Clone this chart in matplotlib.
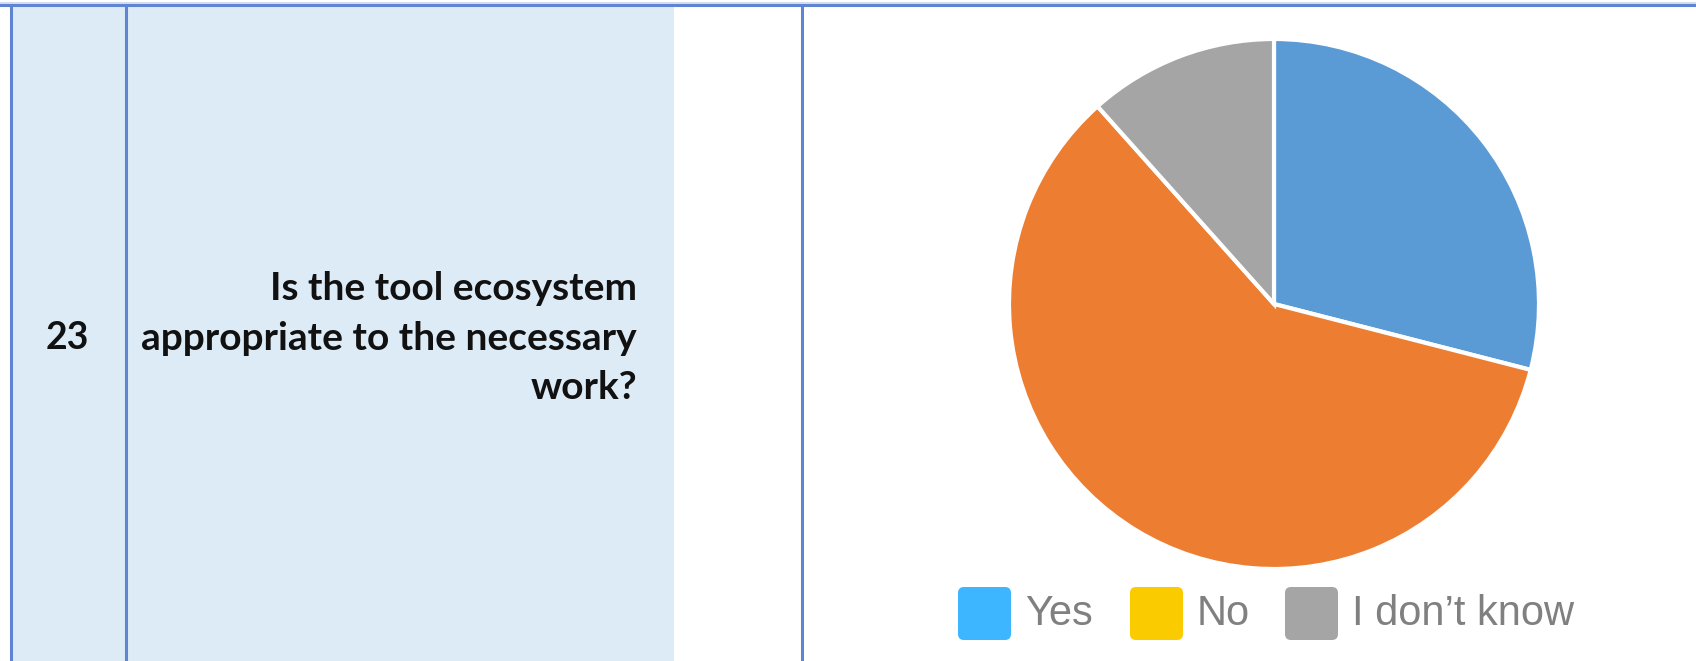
import matplotlib
matplotlib.use("Agg")
import matplotlib.pyplot as plt
from matplotlib.patches import FancyBboxPatch, Rectangle

# survey answers for question 23 (percent)
labels = ["Yes", "No", "I don\u2019t know"]
values = [29.0, 59.4, 11.6]
pie_colors = ["#5B9BD5", "#ED7D31", "#A5A5A5"]
legend_colors = ["#3DB5FF", "#FACC00", "#A5A5A5"]
q_number = "23"
q_text = "Is the tool ecosystem\nappropriate to the necessary\nwork?"

W, H = 1696, 661
fig = plt.figure(figsize=(W / 100, H / 100), dpi=100)
fig.patch.set_facecolor("white")

# background axes in pixel coords (y down)
bg = fig.add_axes([0, 0, 1, 1])
bg.set_xlim(0, W)
bg.set_ylim(H, 0)
bg.axis("off")

line_col = "#5F84D2"
bg.add_patch(Rectangle((10, 5), 664, H, facecolor="#DDEBF7", edgecolor="none", zorder=0))
bg.plot([0, W], [5, 5], color=line_col, lw=2.2, zorder=2)
bg.plot([0, W], [2.5, 2.5], color="#C9D6EF", lw=1.2, zorder=2)
for x in [10.5, 125.5, 802]:
    bg.plot([x, x], [5, H], color=line_col, lw=2.2, zorder=2)

bg.text(67, 338, q_number, ha="center", va="center", fontsize=27,
        fontweight="bold", family="Lato", color="#111111")
bg.text(637, 338, q_text, ha="right", va="center", fontsize=28,
        fontweight="bold", family="Lato", color="#111111", linespacing=1.5)

# legend
sq = 53
for x0, lab, c in zip([958, 1130, 1285], labels, legend_colors):
    bg.add_patch(FancyBboxPatch((x0 + 6, 587 + 6), sq - 12, sq - 12,
                                boxstyle="round,pad=6", facecolor=c,
                                edgecolor="none", zorder=3))
    bg.text(x0 + sq + 14, 614, lab, ha="left", va="center", fontsize=30,
            family="Liberation Sans", color="#808080")

# pie
cx, cy, r = 1274, 304, 265
pax = fig.add_axes([(cx - r) / W, (H - cy - r) / H, 2 * r / W, 2 * r / H])
pax.pie(values, colors=pie_colors, startangle=90, counterclock=False,
        wedgeprops=dict(edgecolor="white", linewidth=3))
pax.set_xlim(-1, 1)
pax.set_ylim(-1, 1)
pax.set_aspect("equal")
pax.axis("off")

fig.savefig("out.png", dpi=100)
